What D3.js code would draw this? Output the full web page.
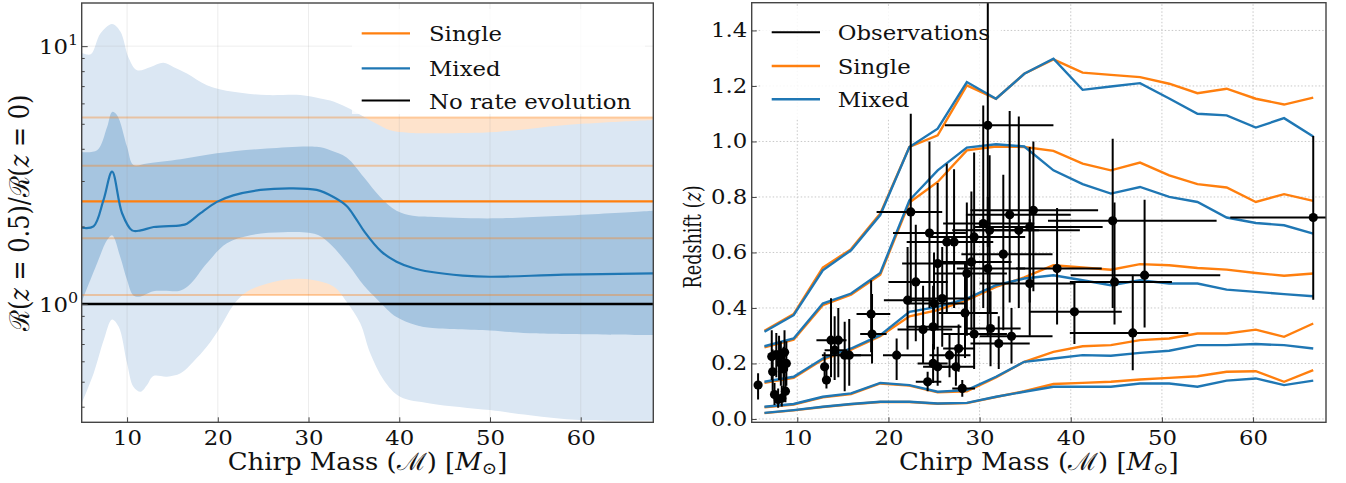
<!DOCTYPE html>
<html><head><meta charset="utf-8">
<script src="https://cdn.jsdelivr.net/npm/d3@7"></script>
<style>
body{margin:0;background:#fff}
svg{display:block}
text{font-family:"DejaVu Serif",serif;fill:#111}
</style>
</head><body>
<svg id="c" width="1346" height="483"></svg>
<script>
// ---------------- LEFT PANEL DATA (rate ratio vs chirp mass) ----------------
const outerUpX = [5, 6.0, 7.06, 8.35, 9.26, 10.2, 11.1, 12.6, 14.0, 15.1, 16.6, 18.8, 21.7, 25.4, 29.1, 31.3, 32.4, 34.2, 36.0, 37.5, 39.0, 41.0, 43.4, 50.7, 58.1, 68];
const outerUp  = [9.4, 9.3, 11.2, 12.2, 11.4, 8.96, 8.07, 8.31, 8.62, 8.31, 7.84, 7.06, 6.65, 6.46, 6.46, 6.27, 6.15, 5.8, 5.35, 5.0, 4.72, 4.62, 4.6, 4.65, 4.94, 5.17];
const outerLoX = [5, 6.32, 7.43, 8.34, 9.08, 10.0, 10.7, 11.5, 12.2, 12.9, 14.4, 15.9, 17.3, 18.8, 20.3, 21.7, 23.2, 25.4, 28.3, 30.5, 32.8, 34.2, 35.7, 36.8, 38.3, 40.1, 43.4, 50, 54.4, 59.9, 68];
const outerLo  = [0.412, 0.539, 0.725, 0.872, 0.817, 0.589, 0.478, 0.457, 0.485, 0.526, 0.523, 0.539, 0.598, 0.684, 0.817, 0.99, 1.116, 1.20, 1.25, 1.24, 1.167, 1.02, 0.842, 0.644, 0.507, 0.437, 0.412, 0.388, 0.371, 0.355, 0.353];
const midUpX = [5, 6.7, 7.8, 8.35, 8.9, 10.0, 10.7, 12.2, 15.9, 19.9, 25.4, 30.9, 32.4, 34.2, 36.1, 37.9, 39.7, 41.5, 43.4, 50.7, 68];
const midUp  = [3.89, 3.95, 4.86, 5.56, 5.4, 4.07, 3.46, 3.51, 3.64, 3.84, 4.01, 4.07, 3.95, 3.7, 3.1, 2.6, 2.3, 2.2, 2.18, 2.15, 2.3];
const midLoX = [5, 6.7, 7.8, 8.35, 9.26, 10.0, 10.7, 11.5, 12.9, 15.9, 17.0, 18.8, 21.0, 23.6, 27.2, 30.9, 32.3, 34.4, 36.1, 37.6, 39.7, 41.8, 43.4, 50, 54.4, 68];
const midLo  = [1.02, 1.44, 1.77, 1.85, 1.52, 1.24, 1.08, 1.07, 1.12, 1.13, 1.20, 1.44, 1.72, 1.85, 1.9, 1.86, 1.72, 1.42, 1.18, 1.04, 0.89, 0.83, 0.81, 0.79, 0.77, 0.758];
const medX = [5, 6.3, 7.4, 8.35, 9.45, 10.55, 11.5, 12.93, 15.9, 16.6, 18.1, 19.9, 21.7, 24.7, 28.0, 30.9, 32.75, 34.2, 35.2, 36.2, 38.0, 39.7, 41.5, 43.4, 47, 50, 58.1, 68];
const med  = [1.976, 2.0, 2.53, 3.26, 2.25, 1.93, 1.93, 1.99, 2.02, 2.05, 2.25, 2.49, 2.64, 2.77, 2.81, 2.77, 2.6, 2.4, 2.15, 1.9, 1.6, 1.46, 1.38, 1.334, 1.29, 1.276, 1.30, 1.315];
const singleX = [5, 68];
const singleLevels = [1.084, 1.80, 2.50, 3.44, 5.29]; // 5%,25%,50%,75%,95%
const noEvolution = 1.0;
const leftXTicks = [10, 20, 30, 40, 50, 60];
const leftYMajor = [1, 10];
const leftYMinor = [0.4, 0.5, 0.6, 0.7, 0.8, 0.9, 2, 3, 4, 5, 6, 7, 8, 9];

// ---------------- RIGHT PANEL DATA (redshift vs chirp mass) ----------------
const zBins = [6.4, 9.6, 12.8, 15.9, 19.1, 22.3, 25.4, 28.6, 31.8, 34.9, 38.1, 41.3, 44.4, 47.6, 50.8, 53.9, 57.1, 60.3, 63.4, 66.6];
const single1 = [0.318, 0.378, 0.545, 0.612, 0.74, 0.98, 1.022, 1.202, 1.154, 1.244, 1.296, 1.248, 1.24, 1.232, 1.208, 1.174, 1.19, 1.154, 1.133, 1.158];
const single2 = [0.258, 0.286, 0.41, 0.448, 0.52, 0.78, 0.854, 0.968, 0.982, 0.98, 0.966, 0.92, 0.896, 0.924, 0.878, 0.846, 0.834, 0.782, 0.81, 0.786];
const single3 = [0.13, 0.148, 0.214, 0.25, 0.298, 0.37, 0.392, 0.428, 0.476, 0.51, 0.554, 0.546, 0.538, 0.558, 0.554, 0.544, 0.538, 0.526, 0.516, 0.524];
const single4 = [0.042, 0.052, 0.078, 0.09, 0.128, 0.12, 0.096, 0.1, 0.15, 0.206, 0.242, 0.262, 0.266, 0.284, 0.29, 0.308, 0.308, 0.322, 0.296, 0.344];
const single5 = [0.021, 0.031, 0.043, 0.053, 0.061, 0.061, 0.055, 0.057, 0.079, 0.1, 0.126, 0.13, 0.134, 0.142, 0.148, 0.154, 0.17, 0.172, 0.134, 0.176];
const mixed1 = [0.314, 0.374, 0.536, 0.608, 0.735, 0.98, 1.046, 1.214, 1.154, 1.244, 1.298, 1.186, 1.198, 1.21, 1.155, 1.10, 1.094, 1.05, 1.084, 1.018];
const mixed2 = [0.262, 0.29, 0.416, 0.452, 0.526, 0.788, 0.896, 0.978, 0.99, 0.982, 0.896, 0.846, 0.812, 0.836, 0.80, 0.782, 0.726, 0.706, 0.698, 0.668];
const mixed3 = [0.134, 0.152, 0.218, 0.254, 0.302, 0.386, 0.404, 0.434, 0.482, 0.506, 0.518, 0.50, 0.482, 0.50, 0.488, 0.488, 0.466, 0.458, 0.45, 0.442];
const mixed4 = [0.044, 0.054, 0.08, 0.092, 0.13, 0.122, 0.098, 0.104, 0.152, 0.206, 0.218, 0.23, 0.228, 0.238, 0.246, 0.266, 0.266, 0.27, 0.266, 0.254];
const mixed5 = [0.022, 0.032, 0.044, 0.054, 0.062, 0.062, 0.056, 0.058, 0.08, 0.098, 0.116, 0.116, 0.116, 0.128, 0.128, 0.116, 0.138, 0.146, 0.122, 0.138];

const obsMass   = [5.7,7.2,7.3,7.5,7.7,7.9,8.0,8.2,8.3,8.5,8.6,8.7,8.8, 13.0,13.2,13.7,14.1,14.5,15.2,15.7,18.1,18.2,20.9, 22.45,24.5,26.4,27.2,25.4,23.0,22.1,25.0,25.9,23.8,24.9,24.3,24.9,25.4,26.7,27.4,27.7,28.1,28.4,29.4,28.6,29.4,30.4,29.1,30.9,31.1,30.9,31.2,33.3,34.3,32.6,35.5,35.9,35.5,38.5,40.4,44.6,44.8,48.1,46.8,33.5,32.1,66.6];
const obsMassLo = [5.5,6.9,7.0,7.2,7.3,7.6,7.6,7.9,8.0,8.2,8.2,8.4,8.5, 12.6,12.9,12.1,13.0,13.6,12.7,14.5,16.5,16.9,19.4, 18.7,20.5,22.0,23.5,21.5,20.0,19.5,22.0,22.5,21.0,22.0,23.0,23.2,23.8,24.5,25.5,26.0,27.0,25.5,26.0,25.0,24.5,26.0,25.5,26.2,27.0,27.5,28.5,28.5,29.0,28.0,29.5,29.0,30.0,34.0,35.5,37.5,39.9,40.0,39.9,30.0,29.0,57.5];
const obsMassHi = [5.9,7.6,7.6,7.8,8.1,8.2,8.4,8.5,8.6,8.8,9.1,9.0,9.2, 13.4,13.6,15.2,15.5,15.4,18.2,17.0,20.2,19.8,23.7, 25.9,28.5,31.0,31.5,29.5,26.5,25.0,28.5,29.0,27.0,28.0,25.8,26.5,27.2,29.0,29.5,29.5,29.5,32.0,33.0,33.0,35.0,36.0,33.5,38.1,36.5,35.0,34.5,40.0,41.0,38.0,43.5,43.0,40.5,43.4,45.6,56.0,51.1,56.4,52.9,38.0,35.5,70.0];
const obsZ      = [0.122,0.225,0.17,0.088,0.232,0.07,0.225,0.20,0.075,0.18,0.24,0.10,0.20, 0.188,0.14,0.284,0.248,0.284,0.23,0.23,0.378,0.306,0.23, 0.746,0.67,0.638,0.638,0.56,0.494,0.428,0.416,0.434,0.322,0.332,0.134,0.20,0.188,0.23,0.188,0.254,0.11,0.382,0.306,0.524,0.656,0.704,0.566,1.058,0.68,0.542,0.326,0.736,0.68,0.594,0.692,0.752,0.488,0.542,0.386,0.714,0.494,0.518,0.31,0.298,0.272,0.726];
const obsZLo    = [0.07,0.14,0.10,0.05,0.15,0.04,0.14,0.12,0.045,0.11,0.15,0.06,0.12, 0.14,0.11,0.15,0.14,0.15,0.10,0.12,0.24,0.20,0.14, 0.42,0.40,0.38,0.40,0.32,0.28,0.25,0.25,0.26,0.20,0.20,0.10,0.13,0.12,0.15,0.12,0.17,0.08,0.22,0.18,0.30,0.38,0.40,0.32,0.62,0.38,0.30,0.19,0.42,0.40,0.32,0.42,0.46,0.30,0.34,0.27,0.40,0.34,0.33,0.176,0.20,0.18,0.43];
const obsZHi    = [0.165,0.32,0.25,0.13,0.31,0.11,0.30,0.28,0.12,0.26,0.32,0.15,0.28, 0.24,0.19,0.435,0.37,0.40,0.35,0.36,0.50,0.45,0.29, 1.10,1.0,0.92,0.90,0.85,0.70,0.62,0.60,0.62,0.48,0.48,0.17,0.27,0.26,0.31,0.26,0.34,0.14,0.56,0.46,0.78,0.96,1.13,0.82,1.6,0.95,0.80,0.46,1.11,1.09,0.88,0.98,1.0,0.72,0.76,0.49,1.01,0.78,0.79,0.52,0.40,0.37,1.02];
const rightXTicks = [10, 20, 30, 40, 50, 60];
const rightYTicks = [0, 0.2, 0.4, 0.6, 0.8, 1.0, 1.2, 1.4];

// ---------------- STYLE ----------------
const ORANGE = "#ff7f0e", BLUE = "#1f77b4";
const SX = 1.14;   // horizontal glyph stretch seen in the reference
const svg = d3.select("#c");
const defs = svg.append("defs");
function stretchText(g, x, y, size, anchor) {
  return g.append("text").attr("transform", `translate(${x},${y}) scale(${SX},1)`)
    .attr("font-size", size).attr("text-anchor", anchor || "start");
}

// ================= LEFT PANEL =================
const xL = d3.scaleLinear().domain([5, 68]).range([81.7, 653.3]);
const yL = d3.scaleLog().domain([0.348, 14.7]).range([422.3, 3]);
defs.append("clipPath").attr("id", "clipL").append("rect")
  .attr("x", xL.range()[0]).attr("y", yL.range()[1])
  .attr("width", xL.range()[1] - xL.range()[0]).attr("height", yL.range()[0] - yL.range()[1]);
const gL = svg.append("g");
const cL = gL.append("g").attr("clip-path", "url(#clipL)");

const smooth = d3.line().curve(d3.curveCatmullRom.alpha(0.5));
function bandPath(xu, yu, xl, yl, x, y) {
  const up = smooth(xu.map((v, i) => [x(v), y(yu[i])]));
  const lo = smooth(xl.map((v, i) => [x(v), y(yl[i])]).reverse());
  return up + "L" + lo.slice(1) + "Z";
}
cL.append("path")
  .attr("d", d3.area().x(d => xL(d)).y0(yL(singleLevels[0])).y1(yL(singleLevels[4]))(singleX))
  .attr("fill", "#fee3cc");
cL.append("path").attr("d", bandPath(outerUpX, outerUp, outerLoX, outerLo, xL, yL)).attr("fill", "#dbe7f3");
cL.append("path").attr("d", bandPath(midUpX, midUp, midLoX, midLo, xL, yL)).attr("fill", "#a6c5e0");
cL.selectAll(".gx").data(leftXTicks).join("line")
  .attr("x1", d => xL(d)).attr("x2", d => xL(d)).attr("y1", yL.range()[0]).attr("y2", yL.range()[1])
  .attr("stroke", "#9a9a9a").attr("stroke-opacity", 0.18).attr("stroke-width", 1);
cL.selectAll(".gy").data(leftYMajor).join("line")
  .attr("x1", xL.range()[0]).attr("x2", xL.range()[1]).attr("y1", d => yL(d)).attr("y2", d => yL(d))
  .attr("stroke", "#9a9a9a").attr("stroke-opacity", 0.18).attr("stroke-width", 1);
[0, 1, 3, 4].forEach(k => {
  cL.append("path").attr("d", d3.line().x(d => xL(d)).y(yL(singleLevels[k]))(singleX))
    .attr("stroke", ORANGE).attr("stroke-opacity", 0.35).attr("stroke-width", 2).attr("fill", "none");
});
cL.append("path").attr("d", d3.line().x(d => xL(d)).y(yL(singleLevels[2]))(singleX))
  .attr("stroke", ORANGE).attr("stroke-width", 2.2).attr("fill", "none");
cL.append("path").attr("d", smooth(medX.map((v, i) => [xL(v), yL(med[i])])))
  .attr("stroke", BLUE).attr("stroke-width", 2.2).attr("fill", "none");
cL.append("path").attr("d", d3.line().x(d => xL(d)).y(yL(noEvolution))(singleX))
  .attr("stroke", "#000").attr("stroke-width", 2.4).attr("fill", "none");

function styleAxis(g) {
  g.select(".domain").remove();
  g.selectAll("line").attr("stroke", "#444");
  g.selectAll("text").attr("font-size", 20).attr("font-family", "DejaVu Serif").attr("fill", "#111");
}
gL.append("g").attr("transform", `translate(0,${yL.range()[0]})`)
  .call(d3.axisBottom(xL).tickValues(leftXTicks).tickSize(-5).tickPadding(9).tickFormat(d3.format("d")))
  .call(styleAxis)
  .call(g => g.selectAll("text").attr("transform", `scale(${SX},1)`));
gL.append("g").attr("transform", `translate(${xL.range()[0]},0)`)
  .call(d3.axisLeft(yL).tickValues(leftYMajor).tickSize(-6).tickFormat(""))
  .call(styleAxis);
gL.append("g").attr("transform", `translate(${xL.range()[0]},0)`)
  .call(d3.axisLeft(yL).tickValues(leftYMinor).tickSize(-3).tickFormat(""))
  .call(styleAxis);
const expo = {1: "0", 10: "1"};
leftYMajor.forEach(v => {
  const t = stretchText(gL, xL.range()[0] - 3.5, yL(v) + 8, 20, "end");
  t.append("tspan").text("10");
  t.append("tspan").attr("dy", -9).attr("font-size", 14).text(expo[v]);
});
gL.append("rect").attr("x", xL.range()[0]).attr("y", yL.range()[1])
  .attr("width", xL.range()[1] - xL.range()[0]).attr("height", yL.range()[0] - yL.range()[1])
  .attr("fill", "none").attr("stroke", "#444").attr("stroke-width", 1.4);

function chirpLabel(g, cx) {
  const t = g.append("text").attr("transform", `translate(${cx},470) scale(1.08,1)`)
    .attr("text-anchor", "middle").attr("font-size", 24);
  t.append("tspan").text("Chirp Mass (");
  t.append("tspan").text("\u2133");
  t.append("tspan").text(") [");
  t.append("tspan").attr("font-style", "italic").text("M");
  t.append("tspan").attr("dy", 4).attr("font-size", 17).text("\u2299");
  t.append("tspan").attr("dy", -4).text("]");
}
chirpLabel(gL, (xL.range()[0] + xL.range()[1]) / 2);
{
  const t = gL.append("text").attr("transform", `translate(29,${(yL.range()[0] + yL.range()[1]) / 2}) rotate(-90) scale(1,${SX})`)
    .attr("text-anchor", "middle").attr("font-size", 24);
  t.append("tspan").text("\u211B(");
  t.append("tspan").attr("font-style", "italic").text("z");
  t.append("tspan").text(" = 0.5)/\u211B(");
  t.append("tspan").attr("font-style", "italic").text("z");
  t.append("tspan").text(" = 0)");
}
gL.append("rect").attr("x", 352).attr("y", 9).attr("width", 293).attr("height", 105)
  .attr("fill", "#fff").attr("fill-opacity", 0.8);
const legL = [["Single", ORANGE], ["Mixed", BLUE], ["No rate evolution", "#000"]];
const legLY = [33.3, 68.3, 100.5];
legL.forEach((d, i) => {
  gL.append("line").attr("x1", 361.7).attr("x2", 410).attr("y1", legLY[i]).attr("y2", legLY[i])
    .attr("stroke", d[1]).attr("stroke-width", 2.2);
  stretchText(gL, 429, legLY[i] + 8, 20).text(d[0]);
});

// ================= RIGHT PANEL =================
const xR = d3.scaleLinear().domain([5, 68]).range([751.7, 1326]);
const yR = d3.scaleLinear().domain([-0.012, 1.5]).range([422.3, 2.7]);
defs.append("clipPath").attr("id", "clipR").append("rect")
  .attr("x", xR.range()[0]).attr("y", yR.range()[1])
  .attr("width", xR.range()[1] - xR.range()[0]).attr("height", yR.range()[0] - yR.range()[1]);
const gR = svg.append("g");
const cR = gR.append("g").attr("clip-path", "url(#clipR)");
cR.selectAll(".gx").data(rightXTicks).join("line")
  .attr("x1", d => xR(d)).attr("x2", d => xR(d)).attr("y1", yR.range()[0]).attr("y2", yR.range()[1])
  .attr("stroke", "#c8c8c8").attr("stroke-width", 1).attr("stroke-dasharray", "1.5,2");
cR.selectAll(".gy").data(rightYTicks).join("line")
  .attr("x1", xR.range()[0]).attr("x2", xR.range()[1]).attr("y1", d => yR(d)).attr("y2", d => yR(d))
  .attr("stroke", "#c8c8c8").attr("stroke-width", 1).attr("stroke-dasharray", "1.5,2");
cR.append("rect").attr("x", 761).attr("y", 8).attr("width", 240).attr("height", 110)
  .attr("fill", "#fff").attr("fill-opacity", 0.85);
const lineR = d3.line().x((d, i) => xR(zBins[i])).y(d => yR(d));
[single1, single2, single3, single4, single5].forEach(s => {
  cR.append("path").attr("d", lineR(s)).attr("stroke", ORANGE).attr("stroke-width", 2.4).attr("fill", "none");
});
[mixed1, mixed2, mixed3, mixed4, mixed5].forEach(s => {
  cR.append("path").attr("d", lineR(s)).attr("stroke", BLUE).attr("stroke-width", 2.4).attr("fill", "none");
});
const obs = obsMass.map((m, i) => ({m, ml: obsMassLo[i], mh: obsMassHi[i], z: obsZ[i], zl: obsZLo[i], zh: obsZHi[i]}));
const og = cR.append("g");
og.selectAll(".eh").data(obs).join("line")
  .attr("x1", d => xR(d.ml)).attr("x2", d => xR(d.mh)).attr("y1", d => yR(d.z)).attr("y2", d => yR(d.z))
  .attr("stroke", "#000").attr("stroke-width", 2);
og.selectAll(".ev").data(obs).join("line")
  .attr("x1", d => xR(d.m)).attr("x2", d => xR(d.m)).attr("y1", d => yR(d.zl)).attr("y2", d => yR(d.zh))
  .attr("stroke", "#000").attr("stroke-width", 2);
og.selectAll("circle").data(obs).join("circle")
  .attr("cx", d => xR(d.m)).attr("cy", d => yR(d.z)).attr("r", 4.6).attr("fill", "#000");

gR.append("g").attr("transform", `translate(0,${yR.range()[0]})`)
  .call(d3.axisBottom(xR).tickValues(rightXTicks).tickSize(-5).tickPadding(9).tickFormat(d3.format("d")))
  .call(styleAxis)
  .call(g => g.selectAll("text").attr("transform", `scale(${SX},1)`));
gR.append("g").attr("transform", `translate(${xR.range()[0]},0)`)
  .call(d3.axisLeft(yR).tickValues(rightYTicks).tickSize(-5).tickPadding(4).tickFormat(d3.format(".1f")))
  .call(styleAxis)
  .call(g => g.selectAll("text").attr("transform", `scale(${SX},1)`));
gR.append("rect").attr("x", xR.range()[0]).attr("y", yR.range()[1])
  .attr("width", xR.range()[1] - xR.range()[0]).attr("height", yR.range()[0] - yR.range()[1])
  .attr("fill", "none").attr("stroke", "#444").attr("stroke-width", 1.4);
chirpLabel(gR, (xR.range()[0] + xR.range()[1]) / 2);
{
  const t = gR.append("text").attr("transform", `translate(701,237) rotate(-90) scale(0.8,1.08)`)
    .attr("text-anchor", "middle").attr("font-size", 22);
  t.append("tspan").text("Redshift (");
  t.append("tspan").attr("font-style", "italic").text("z");
  t.append("tspan").text(")");
}
const legR = [["Observations", "#000"], ["Single", ORANGE], ["Mixed", BLUE]];
const legRY = [32.3, 66, 99.3];
legR.forEach((d, i) => {
  gR.append("line").attr("x1", 771.7).attr("x2", 820).attr("y1", legRY[i]).attr("y2", legRY[i])
    .attr("stroke", d[1]).attr("stroke-width", i === 0 ? 2 : 2.4);
  stretchText(gR, 837.7, legRY[i] + 8, 20).text(d[0]);
});
</script>
</body></html>
